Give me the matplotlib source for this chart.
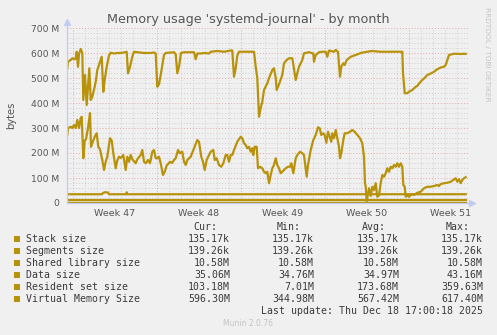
import matplotlib
matplotlib.use("Agg")
import matplotlib.pyplot as plt
from matplotlib.patches import Rectangle

# ---- data (time in hours since start of Week 47, values in MB) ----
vms_t = [-11.4, -10, -4.6, -1.4, 2, 5.4, 7.4, 10, 12, 15.4, 18.6, 20.6, 24, 27.4, 32.6, 35.4,
         38.6, 43.4, 46, 48.6, 54, 57.4, 60.6, 63.4, 67.4, 72, 75.4, 82, 88.6, 95.4, 102, 107.4,
         110, 113.4, 118.6, 122, 128.6, 142, 155.4, 162, 165.4, 168.6, 172, 175.4, 178.6, 182,
         185.4, 202, 205.4, 208.6, 212, 216, 222, 242, 245.4, 248.6, 256, 262, 272, 275.4, 288.6,
         302, 315.4, 318.6, 322, 325.4, 328.6, 332, 348.6, 362, 365.4, 368.6, 372, 375.4, 378.6,
         382, 388.6, 392, 398.6, 402, 405.4, 407.4, 412, 418.6, 422, 427.4, 432, 438.6, 443.4,
         445.4, 448.6, 452, 458.6, 462, 472, 480.6, 482, 485.4, 492, 498.6, 505.4, 508.6, 512,
         522, 525.4, 530, 534, 536.6, 540.6, 543.4, 547.4, 555.4, 565.4, 575.4, 588.6, 598, 614,
         658.6, 660, 663.4, 668.6, 672, 678.6, 685.4, 688.6, 692, 698.6, 702, 708.6, 715.4, 722,
         728.6, 735.4, 742, 745.4, 748.6, 752, 762, 775.4, 782, 785.4]
vms_v = [539, 565, 572, 579, 575, 578, 605, 545, 595, 616, 600, 412, 512, 392, 539, 412,
         425, 465, 492, 532, 565, 585, 445, 492, 545, 590, 601, 598, 600, 600, 602, 605,
         519, 540, 585, 605, 603, 600, 600, 602, 598, 465, 475, 512, 552, 592,
         600, 603, 595, 519, 545, 600, 603, 603, 575, 598, 598, 600, 598, 605, 608,
         605, 610, 610, 505, 539, 590, 605, 605, 605, 545, 500, 345, 380, 405,
         452, 479, 499, 532, 539, 500, 452, 475, 512, 559, 572, 579, 579, 519,
         492, 519, 545, 572, 599, 603, 598, 565, 592, 603, 605, 605, 585, 610,
         605, 612, 605, 505, 545, 559, 552, 572, 585, 592, 600, 605, 608, 605,
         605, 520, 439, 439, 445, 452, 465, 468, 478, 492, 498, 512, 518, 525,
         535, 542, 545, 552, 572, 592, 597, 596, 597, 596.3]

rss_t = [-11.4, -10, -4.6, -1.4, 2, 5.4, 8.6, 12, 15.4, 17.4, 20.6, 23.4, 26, 30, 34, 36,
         38.6, 43.4, 47.4, 50.6, 54, 58.6, 62, 65.4, 68.6, 74, 77.4, 80.6, 85.4, 88.6, 92, 95.4,
         100.6, 105.4, 108.6, 112, 115.4, 118.6, 125.4, 128.6, 135.4, 138.6, 142, 145.4, 150,
         154, 158.6, 162, 165.4, 168.6, 172, 175.4, 180, 183.4, 187.4, 194, 198, 202, 205.4, 210,
         214, 218.6, 222, 225.4, 228.6, 235.4, 242, 248.6, 252, 256.6, 260, 263.4, 267.4, 272,
         275.4, 280.6, 283.4, 287.4, 292, 296.6, 300.6, 305.4, 308.6, 312, 315.4, 318.6, 322,
         328.6, 335.4, 338.6, 342, 345.4, 348.6, 352, 355.4, 358.6, 360.6, 363.4, 367.4, 370,
         374, 378.6, 382, 385.4, 388.6, 392, 395.4, 398.6, 402, 405.4, 408.6, 412, 415.4, 418.6,
         422, 425.4, 430, 434, 436.6, 440.6, 445.4, 448.6, 454, 458.6, 462, 467.4, 470, 475.4,
         480.6, 485.4, 490, 493.4, 496.6, 500.6, 503.4, 506.6, 510, 513.4, 516.6, 518.6, 522,
         525.4, 528.6, 532, 534, 536.6, 540.6, 543.4, 548.6, 554, 558.6, 563.4, 568.6, 574,
         578.6, 582, 584, 585.4, 587.4, 592, 595.4, 598.6, 602, 605.4, 608.6, 612, 615.4, 618.6,
         622, 625.4, 628.6, 632, 635.4, 638.6, 642, 645.4, 648.6, 652, 655.4, 658.6, 660.6,
         663.4, 665.4, 668.6, 672, 678.6, 682, 688.6, 695.4, 702, 708.6, 715.4, 722, 728.6, 732,
         735.4, 742, 748.6, 755.4, 760.6, 765.4, 768.6, 772, 775.4, 778.6, 782, 785.4]
rss_v = [272, 299, 305, 300, 312, 300, 332, 300, 339, 345, 179, 250, 255, 300, 359.6, 225,
         240, 265, 279, 225, 215, 172, 132, 165, 185, 259, 250, 200, 139, 170, 185, 180,
         192, 132, 185, 165, 192, 175, 159, 175, 192, 212, 165, 159, 172,
         159, 205, 212, 179, 179, 185, 159, 112, 125, 150, 165, 160, 172, 179, 212,
         199, 205, 165, 152, 172, 185, 219, 252, 245, 185, 165, 132, 172, 192,
         205, 212, 172, 179, 152, 145, 159, 192, 192, 165, 192, 192, 212,
         245, 265, 259, 239, 232, 219, 225, 205, 219, 192, 225, 225, 139,
         145, 139, 125, 119, 125, 79, 112, 139, 152, 179, 152, 139, 119, 125,
         132, 139, 145, 145, 159, 119, 179, 192, 205, 199, 192, 105, 152, 212,
         252, 272, 303, 299, 272, 279, 272, 241, 285, 265, 245, 279, 259,
         292, 259, 225, 179, 199, 252, 279, 279, 285, 292, 285, 272, 259,
         239, 185, 79, 65, 7, 59, 28, 65, 52, 79, 25, 30, 79, 112,
         105, 119, 139, 125, 145, 139, 152, 145, 159, 145, 159, 145, 72,
         65, 25, 30, 25, 36, 32, 41, 45, 59, 65, 65, 68, 72, 68,
         76, 79, 81, 85, 92, 99, 85, 95, 79, 92, 99, 103.18]

data_t = [-12, 58, 60, 64, 70, 72, 106.6, 107.4, 108.6, 785.4]
data_v = [35, 35, 40, 43.16, 42, 35, 35, 43, 35, 35.06]

const_t = [-12, 785.4]
shared_v = [10.58, 10.58]
segments_v = [0.13926, 0.13926]
stack_v = [0.13517, 0.13517]

week_labels = ["Week 47", "Week 48", "Week 49", "Week 50", "Week 51"]
y_ticks = [0, 100, 200, 300, 400, 500, 600, 700]
y_labels = ["0", "100 M", "200 M", "300 M", "400 M", "500 M", "600 M", "700 M"]

legend_names = ["Stack size", "Segments size", "Shared library size", "Data size",
                "Resident set size", "Virtual Memory Size"]
legend_cur = ["135.17k", "139.26k", "10.58M", "35.06M", "103.18M", "596.30M"]
legend_min = ["135.17k", "139.26k", "10.58M", "34.76M", "7.01M", "344.98M"]
legend_avg = ["135.17k", "139.26k", "10.58M", "34.97M", "173.68M", "567.42M"]
legend_max = ["135.17k", "139.26k", "10.58M", "43.16M", "359.63M", "617.40M"]

# ---- style ----
W, H = 497, 335
BG = "#f0f0f0"
LINE = "#b8920a"
MAJOR = "#e6a8a8"
MINOR = "#cfcfcf"
AXIS = "#c4cbf2"

fig = plt.figure(figsize=(W / 100, H / 100), dpi=100, facecolor=BG)
ax = fig.add_axes([67 / W, 1 - 203 / H, 402 / W, 175 / H])
ax.set_facecolor(BG)
ax.set_xlim(-12, 792)
ax.set_ylim(0, 700)

# grid
for y in range(20, 701, 20):
    ax.axhline(y, color=MAJOR if y % 100 == 0 else MINOR, lw=0.7,
               ls=(0, (1, 2)), zorder=1)
for h in range(0, 793, 24):
    ax.axvline(h, color=MAJOR if h % 168 == 0 else MINOR, lw=0.7,
               ls=(0, (1, 2)), zorder=1)

lw = 1.6
ax.plot(const_t, stack_v, color=LINE, lw=lw, zorder=2)
ax.plot(const_t, segments_v, color=LINE, lw=lw, zorder=2)
ax.plot(const_t, shared_v, color=LINE, lw=lw, zorder=3)
ax.plot(data_t, data_v, color=LINE, lw=lw, zorder=3)
ax.plot(rss_t, rss_v, color=LINE, lw=lw, zorder=3)
ax.plot(vms_t, vms_v, color=LINE, lw=lw, zorder=3)

# axes
for s in ["top", "right"]:
    ax.spines[s].set_visible(False)
for s in ["left", "bottom"]:
    ax.spines[s].set_color(AXIS)
    ax.spines[s].set_linewidth(0.9)
    ax.spines[s].set_zorder(5)
ax.plot([-12], [724], marker="^", ms=4, color=AXIS, clip_on=False, zorder=5)
ax.plot([-12, -12], [700, 724], color=AXIS, lw=0.9, clip_on=False, zorder=5)
ax.plot([798], [0], marker=">", ms=4, color=AXIS, clip_on=False, zorder=5)
ax.plot([792, 798], [0, 0], color=AXIS, lw=0.9, clip_on=False, zorder=5)

ax.set_yticks(y_ticks)
ax.set_yticklabels(y_labels)
ax.set_xticks([84 + 168 * i for i in range(len(week_labels))])
ax.set_xticklabels(week_labels)
ax.tick_params(axis="y", length=0, pad=5.5, labelsize=6.6, labelcolor="#555555")
ax.tick_params(axis="x", length=0, pad=4.5, labelsize=6.8, labelcolor="#555555")

# texts
fig.text(248 / W, 1 - 19 / H, "Memory usage 'systemd-journal' - by month",
         ha="center", va="center", fontsize=9.2, color="#555555")
fig.text(11 / W, 1 - 115 / H, "bytes", rotation=90, ha="center", va="center",
         fontsize=7.2, color="#555555")
fig.text(487 / W, 1 - 54 / H, "RRDTOOL / TOBI OETIKER", rotation=270, ha="center",
         va="center", fontsize=5.3, color="#c4c4c4")

mono = dict(family="DejaVu Sans Mono", fontsize=7.1, color="#3a3a3a", va="center")
hy = 227
for txt, xr in zip(["Cur:", "Min:", "Avg:", "Max:"], [217, 301, 386, 470]):
    fig.text(xr / W, 1 - hy / H, txt, ha="right", **mono)
for i, name in enumerate(legend_names):
    yy = 239.3 + 12 * i
    fig.patches.append(Rectangle((14 / W, 1 - (yy + 3) / H), 6 / W, 6 / H,
                                 transform=fig.transFigure, facecolor=LINE,
                                 edgecolor="none"))
    fig.text(26 / W, 1 - yy / H, name, ha="left", **mono)
    for col, xr in zip([legend_cur, legend_min, legend_avg, legend_max],
                       [230, 314, 399, 483]):
        fig.text(xr / W, 1 - yy / H, col[i], ha="right", **mono)
fig.text(483 / W, 1 - 311 / H, "Last update: Thu Dec 18 17:00:18 2025", ha="right", **mono)
fig.text(248 / W, 1 - 324 / H, "Munin 2.0.76", ha="center", va="center",
         fontsize=5.5, color="#c4c4c4")

fig.savefig("out.png", dpi=100, facecolor=BG)
